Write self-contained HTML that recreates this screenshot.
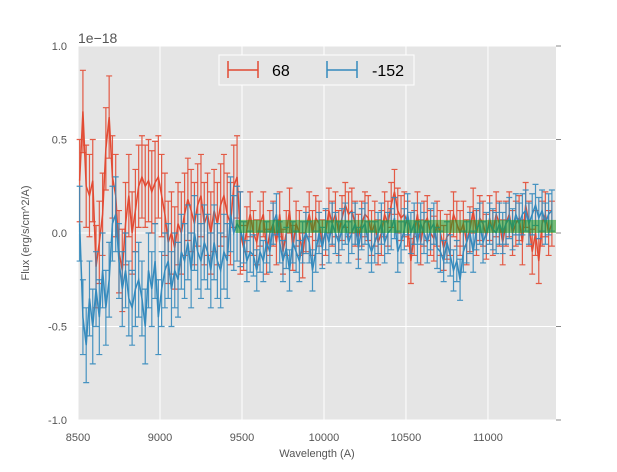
<!DOCTYPE html>
<html><head><meta charset="utf-8"><style>
body{margin:0;background:#fff;font-family:"Liberation Sans",sans-serif;}
svg text{font-family:"Liberation Sans",sans-serif;fill:#555;}
</style></head><body>
<svg id="chart" width="617" height="467" xmlns="http://www.w3.org/2000/svg">
<rect x="0" y="0" width="617" height="467" fill="#fff"/>
<rect x="78" y="46" width="478" height="374" fill="#e5e5e5"/>
<g id="grid"></g>
<g id="series"></g>
<g id="axes"></g>
<text x="78" y="43" font-size="14">1e−18</text>
<text x="317" y="457" font-size="11" text-anchor="middle">Wavelength (A)</text>
<text x="29" y="233" font-size="11" text-anchor="middle" transform="rotate(-90 29 233)">Flux (erg/s/cm^2/A)</text>
<g>
<rect x="219" y="55" width="195" height="30" fill="#e5e5e5" stroke="#fff" stroke-width="1"/>
<g>
<line x1="228" y1="70" x2="258" y2="70" stroke="#E24A33" stroke-width="1.5"/>
<line x1="228" y1="61" x2="228" y2="78" stroke="#E24A33" stroke-width="1.5"/>
<line x1="258" y1="61" x2="258" y2="78" stroke="#E24A33" stroke-width="1.5"/>
<text x="272" y="76" font-size="16" style="fill:#000">68</text>
</g>
<g>
<line x1="327" y1="70" x2="357" y2="70" stroke="#348ABD" stroke-width="1.5"/>
<line x1="327" y1="61" x2="327" y2="78" stroke="#348ABD" stroke-width="1.5"/>
<line x1="357" y1="61" x2="357" y2="78" stroke="#348ABD" stroke-width="1.5"/>
<text x="372" y="76" font-size="16" style="fill:#000">-152</text>
</g>
</g>
</svg>
<script>
const xStart = 8510, xStep = 20;
const redValues = [0.28,0.65,0.25,0.2,0.28,-0.18,-0.05,0.1,0.45,0.62,
0.3,0.2,-0.1,-0.2,0.05,0.2,0.0,0.12,0.25,0.3,
0.25,0.28,0.22,0.27,0.3,0.2,0.1,-0.05,0.0,-0.08,
0.05,0.0,0.1,0.18,0.12,0.05,0.15,0.2,0.05,0.1,
0.0,0.12,0.05,0.15,0.2,0.1,0.05,0.25,0.3,0.0,
-0.08,0.02,0.1,0.0,-0.05,0.05,0.1,-0.1,0.0,0.05,
-0.05,0.1,-0.1,0.0,0.12,-0.08,0.05,0.0,-0.12,0.02,
0.1,0.0,0.08,0.05,-0.05,0.0,0.12,0.05,0.1,0.0,
0.08,0.15,0.1,0.12,0.05,-0.02,0.05,0.1,0.08,0.0,
0.05,-0.05,0.0,0.1,0.05,0.15,0.22,0.12,0.08,0.1,
0.05,-0.15,0.0,0.1,-0.05,0.05,0.08,0.0,-0.03,0.05,
0.0,-0.08,-0.02,0.0,0.1,0.05,0.0,0.05,-0.05,0.02,
0.12,0.0,0.08,0.05,-0.02,0.08,0.0,0.1,0.05,-0.05,
0.05,0.1,0.0,0.05,0.08,-0.05,0.15,0.05,-0.1,0.0,
-0.15,0.05,0.1,0.0,0.05];
const blueValues = [0.05,-0.45,-0.6,-0.35,-0.5,-0.3,-0.45,-0.2,-0.4,-0.25,
0.05,0.1,-0.15,-0.3,-0.2,-0.35,-0.4,-0.3,-0.25,-0.35,
-0.5,-0.2,-0.3,-0.15,-0.45,-0.3,-0.2,-0.15,-0.3,-0.2,
-0.25,-0.1,-0.15,-0.05,-0.2,0.0,-0.1,-0.15,-0.05,-0.1,
-0.2,-0.05,-0.15,-0.2,-0.1,-0.15,0.1,0.0,0.05,0.02,
-0.05,-0.15,-0.1,-0.12,-0.2,-0.1,-0.15,-0.05,-0.1,0.05,
0.1,-0.05,-0.15,-0.08,-0.2,-0.05,-0.1,-0.15,-0.05,0.0,
-0.05,-0.2,-0.1,0.0,-0.08,0.02,-0.05,0.05,0.0,-0.05,
0.02,0.05,-0.05,0.0,0.05,-0.08,0.02,0.05,-0.05,-0.1,
-0.05,0.0,0.05,-0.05,0.0,0.02,0.08,-0.1,-0.05,0.02,
0.1,0.0,0.05,-0.05,0.05,0.0,-0.05,0.02,0.05,-0.08,
-0.1,-0.15,-0.05,-0.12,-0.2,-0.15,-0.25,-0.1,-0.05,0.0,
-0.1,0.02,0.05,-0.05,0.0,0.05,0.02,0.0,0.05,0.0,
0.05,0.08,0.02,0.1,0.05,0.1,0.12,0.05,0.1,0.15,
0.08,0.12,0.05,0.1,0.12];
const redErrEarly = 0.22, redErrLate = 0.12;
const blueErrEarly = 0.2, blueErrLate = 0.11;
const errSwitchWavelength = 9500;
const bandRange = [9460, 11420];
const bandFlux = [0.0, 0.07];
const xTicks = [8500,9000,9500,10000,10500,11000];
const xTickLabels = ["8500","9000","9500","10000","10500","11000"];
const yTicks = [-1.0,-0.5,0.0,0.5,1.0];
const yTickLabels = ["-1.0","-0.5","0.0","0.5","1.0"];

const X0=78,X1=556,Y0=46,Y1=420, xmin=8500,xmax=11415, ymin=-1,ymax=1;
const sx=v=>X0+(v-xmin)/(xmax-xmin)*(X1-X0);
const sy=v=>Y1-(v-ymin)/(ymax-ymin)*(Y1-Y0);
const NS="http://www.w3.org/2000/svg";
function mk(tag,attrs,parent){const e=document.createElementNS(NS,tag);for(const k in attrs)e.setAttribute(k,attrs[k]);parent.appendChild(e);return e;}
const grid=document.getElementById('grid'),ser=document.getElementById('series'),axes=document.getElementById('axes');
xTicks.forEach((t,i)=>{
 const g=mk('line',{x1:sx(t),x2:sx(t),y1:Y0,y2:Y1,stroke:'#fff','stroke-width':1},grid);
 
 
 const tx=mk('text',{x:sx(t),y:441,'font-size':11,'text-anchor':'middle'},axes);
 tx.textContent=xTickLabels[i];
 
 
});
yTicks.forEach((t,i)=>{
 const g=mk('line',{x1:X0,x2:X1,y1:sy(t),y2:sy(t),stroke:'#fff','stroke-width':1},grid);
 
 
 const tk=mk('line',{x1:X1,x2:X1+5,y1:sy(t),y2:sy(t),stroke:'#888','stroke-width':1},axes);
 
 
 const tx=mk('text',{x:67,y:sy(t)+4,'font-size':11,'text-anchor':'end'},axes);
 tx.textContent=yTickLabels[i];
 
 
});
function drawSeries(vals,errE,errL,color,name){
 const g=mk('g',{},ser);
 
 
 let d='';
 vals.forEach((v,i)=>{
  const w=xStart+i*xStep, x=sx(w), e=w<errSwitchWavelength?errE:errL;
  const a=sy(v+e),b=sy(v-e);
  mk('path',{d:`M${x} ${a}V${b}M${x-3} ${a}H${x+3}M${x-3} ${b}H${x+3}`,stroke:color,'stroke-width':1.2,fill:'none',opacity:0.9},g);
  d+=(i?'L':'M')+x.toFixed(2)+' '+sy(v).toFixed(2);
 });
 const p=mk('path',{d:d,stroke:color,'stroke-width':1.5,fill:'none'},g);
 
 
}
drawSeries(redValues,redErrEarly,redErrLate,'#E24A33','series-68');
drawSeries(blueValues,blueErrEarly,blueErrLate,'#348ABD','series-152');
const band=mk('rect',{x:sx(bandRange[0]),y:sy(bandFlux[1]),width:Math.min(sx(bandRange[1]),X1)-sx(bandRange[0]),height:sy(bandFlux[0])-sy(bandFlux[1]),fill:'#1e9a1e','fill-opacity':0.55},ser);


</script>
</body></html>
